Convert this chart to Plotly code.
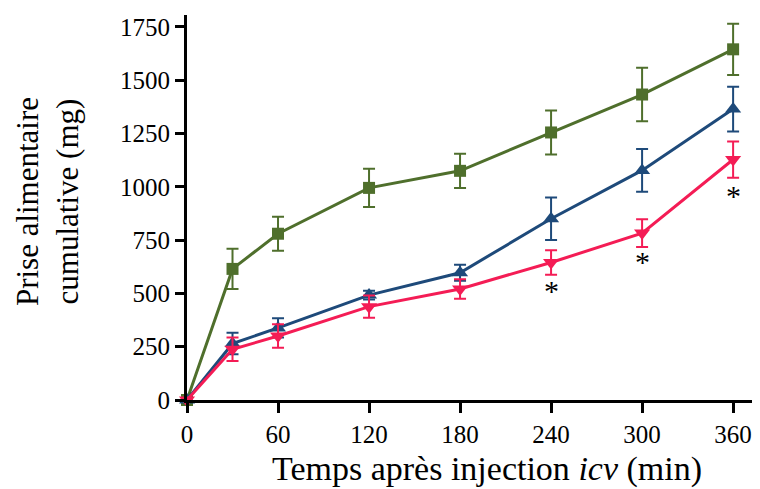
import plotly.graph_objects as go

time_min = [0, 30, 60, 120, 180, 240, 300, 360]

green_vals = [0, 615, 780, 995, 1075, 1255, 1433, 1645]
green_err = [0, 94, 80, 90, 80, 103, 125, 120]

blue_vals = [0, 265, 338, 492, 597, 850, 1077, 1365]
blue_err = [0, 50, 45, 20, 38, 100, 100, 105]

red_vals = [0, 238, 300, 438, 521, 645, 783, 1128]
red_err = [0, 55, 55, 52, 46, 58, 65, 85]

star_x = [240, 300, 360]
star_y = [516, 648, 957]

x_ticks = [0, 60, 120, 180, 240, 300, 360]
y_ticks = [0, 250, 500, 750, 1000, 1250, 1500, 1750]

GREEN = "#4f6f2c"
BLUE = "#1e4a7a"
RED = "#f41c55"

fig = go.Figure()


def add_series(y, err, color, symbol, size):
    fig.add_trace(go.Scatter(
        x=time_min, y=y, mode="lines+markers",
        line=dict(color=color, width=3),
        marker=dict(symbol=symbol, size=size, color=color),
        error_y=dict(type="data", array=err, visible=True, color=color,
                     thickness=2, width=6),
        cliponaxis=False, showlegend=False,
    ))


add_series(green_vals, green_err, GREEN, "square", 12)
add_series(blue_vals, blue_err, BLUE, "triangle-up", 14)
add_series(red_vals, red_err, RED, "triangle-down", 14)

for sx, sy in zip(star_x, star_y):
    fig.add_annotation(x=sx, y=sy, text="*", showarrow=False,
                       font=dict(family="Liberation Serif", size=30, color="black"))

fig.add_annotation(
    text="Prise alimentaire<br>cumulative (mg)", textangle=-90,
    xref="paper", yref="paper", x=0, y=0.514, xanchor="center", yanchor="middle",
    xshift=-140,
    showarrow=False, align="center",
    font=dict(family="Liberation Serif", size=31, color="black"),
)

fig.add_annotation(
    text="Temps après injection <i>icv</i> (min)",
    xref="paper", yref="paper", x=0.516, y=-0.178,
    xanchor="center", yanchor="middle", showarrow=False,
    font=dict(family="Liberation Serif", size=34, color="black"),
)

fig.update_layout(
    width=760, height=489,
    margin=dict(l=179, r=0, t=7, b=97),
    paper_bgcolor="white", plot_bgcolor="white",
    font=dict(family="Liberation Serif", size=25, color="black"),
    xaxis=dict(
        range=[0, 383], tickvals=x_ticks, ticks="outside", ticklen=10,
        tickwidth=2.5, tickcolor="black", showline=True, linecolor="black",
        linewidth=3, showgrid=False, zeroline=False, automargin=False,
    ),
    yaxis=dict(
        range=[0, 1806], tickvals=y_ticks, ticks="outside", ticklen=9,
        tickwidth=2.5, tickcolor="black", showline=True, linecolor="black",
        linewidth=3, showgrid=False, zeroline=False, automargin=False,
    ),
)

fig.write_html("out.html")
